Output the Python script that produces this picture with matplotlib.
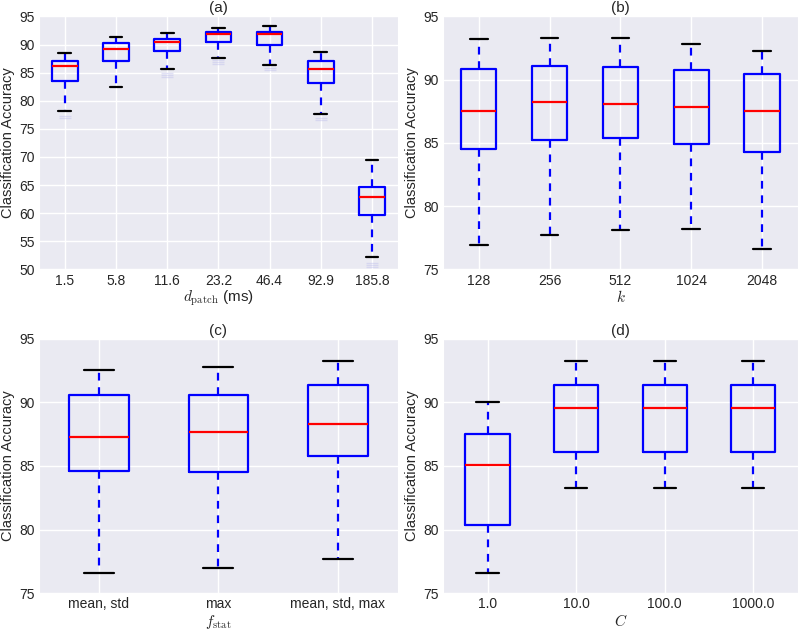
import matplotlib
matplotlib.use("Agg")
import matplotlib.pyplot as plt
import seaborn as sns

sns.set_style("darkgrid")
plt.rcParams['font.family'] = ['Liberation Sans', 'DejaVu Sans']
plt.rcParams['mathtext.fontset'] = 'cm'

# (a) patch duration
patch_labels = ["1.5", "5.8", "11.6", "23.2", "46.4", "92.9", "185.8"]
patch_whislo = [78.1, 82.5, 85.7, 87.6, 86.4, 77.6, 52.3]
patch_q1 = [83.5, 87.1, 88.9, 90.4, 90.0, 83.2, 59.7]
patch_med = [86.1, 89.2, 90.4, 91.8, 91.8, 85.6, 62.9]
patch_q3 = [87.1, 90.2, 91.0, 92.2, 92.3, 87.0, 64.7]
patch_whishi = [88.5, 91.3, 92.1, 92.9, 93.3, 88.6, 69.5]
patch_fliers = [[77.0, 77.3], [], [84.2, 84.6, 85.0], [86.6, 86.9, 87.2],
                [85.4, 85.8], [76.6, 77.0], [50.5, 50.8, 51.1]]

# (b) k
k_labels = ["128", "256", "512", "1024", "2048"]
k_whislo = [76.9, 77.7, 78.1, 78.2, 76.6]
k_q1 = [84.55, 85.2, 85.4, 84.9, 84.25]
k_med = [87.55, 88.2, 88.05, 87.8, 87.55]
k_q3 = [90.85, 91.05, 91.0, 90.75, 90.45]
k_whishi = [93.25, 93.3, 93.3, 92.85, 92.25]

# (c) f_stat
stat_labels = ["mean, std", "max", "mean, std, max"]
stat_whislo = [76.6, 77.0, 77.65]
stat_q1 = [84.6, 84.55, 85.75]
stat_med = [87.25, 87.65, 88.3]
stat_q3 = [90.55, 90.55, 91.35]
stat_whishi = [92.55, 92.8, 93.25]

# (d) C
c_labels = ["1.0", "10.0", "100.0", "1000.0"]
c_whislo = [76.6, 83.25, 83.25, 83.25]
c_q1 = [80.35, 86.1, 86.1, 86.1]
c_med = [85.1, 89.6, 89.6, 89.6]
c_q3 = [87.55, 91.35, 91.35, 91.35]
c_whishi = [90.05, 93.25, 93.25, 93.25]


def make_stats(labels, lo, q1, med, q3, hi, fliers=None):
    stats = []
    for i, lab in enumerate(labels):
        stats.append(dict(label=lab, whislo=lo[i], q1=q1[i], med=med[i],
                          q3=q3[i], whishi=hi[i],
                          fliers=fliers[i] if fliers else []))
    return stats


def draw_panel(ax, stats, title, xlabel, ylim, yticks):
    ax.bxp(stats, widths=0.5,
           boxprops=dict(color="#0000ff", linewidth=1.6),
           medianprops=dict(color="#ff0000", linewidth=1.6),
           whiskerprops=dict(color="#0000ff", linewidth=1.6, linestyle=(0, (3.5, 3))),
           capprops=dict(color="black", linewidth=1.6),
           flierprops=dict(marker="_", markersize=8, markeredgecolor="#c4c4ee",
                           markeredgewidth=1.0, alpha=0.5, linestyle="none"))
    ax.set_ylim(*ylim)
    ax.set_yticks(yticks)
    ax.set_title(title, fontsize=11, pad=3)
    ax.set_xlabel(xlabel, fontsize=11, labelpad=1)
    ax.set_ylabel("Classification Accuracy", fontsize=10.5, labelpad=3)
    ax.tick_params(labelsize=10, length=0, pad=3, colors="#262626")
    ax.grid(True, color="white", linewidth=1.0)
    ax.set_axisbelow(True)


fig = plt.figure(figsize=(8, 6.31), dpi=100)
ax_a = fig.add_axes([0.049, 0.573, 0.448, 0.401])
ax_b = fig.add_axes([0.554, 0.573, 0.443, 0.401])
ax_c = fig.add_axes([0.049, 0.060, 0.448, 0.403])
ax_d = fig.add_axes([0.554, 0.060, 0.443, 0.403])

draw_panel(ax_a, make_stats(patch_labels, patch_whislo, patch_q1, patch_med,
                            patch_q3, patch_whishi, patch_fliers),
           "(a)", r"$d_{\rm patch}$ (ms)", (50, 95), range(50, 96, 5))
draw_panel(ax_b, make_stats(k_labels, k_whislo, k_q1, k_med, k_q3, k_whishi),
           "(b)", r"$k$", (75, 95), range(75, 96, 5))
draw_panel(ax_c, make_stats(stat_labels, stat_whislo, stat_q1, stat_med,
                            stat_q3, stat_whishi),
           "(c)", r"$f_{\rm stat}$", (75, 95), range(75, 96, 5))
draw_panel(ax_d, make_stats(c_labels, c_whislo, c_q1, c_med, c_q3, c_whishi),
           "(d)", r"$C$", (75, 95), range(75, 96, 5))

fig.savefig("out.png", dpi=100)
